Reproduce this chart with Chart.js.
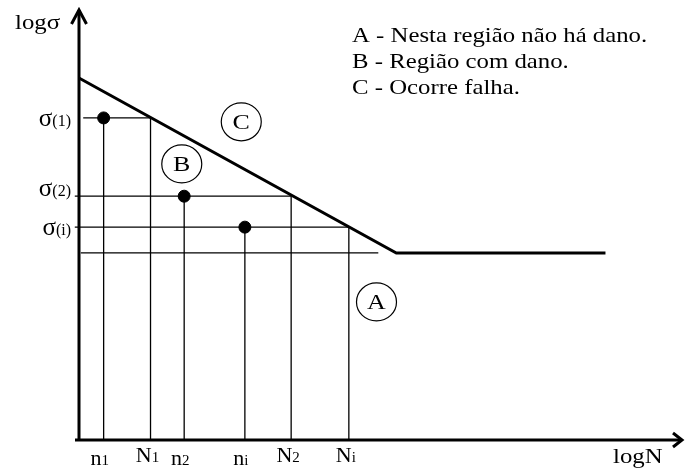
<!DOCTYPE html>
<html>
<head>
<meta charset="utf-8">
<script src="https://cdn.jsdelivr.net/npm/chart.js@4/dist/chart.umd.min.js"></script>
<style>
  html, body { margin: 0; padding: 0; background: #fff; }
  canvas { display: block; }
</style>
</head>
<body>
<canvas id="sn" width="687" height="470"></canvas>
<script>
// S-N curve (log N vs log sigma), schematic units
const curveLogN = [0, 5.28, 8.76];
const curveLogS = [8.42, 4.35, 4.35];

// Stress levels and their cycle counts
const stressLevels = [7.49, 5.67, 4.95];        // sigma(1), sigma(2), sigma(i)
const stressLabels = ['(1)', '(2)', '(i)'];
const appliedCycles = [0.41, 1.75, 2.76];       // n1, n2, ni
const appliedLabels = ['n_1', 'n_2', 'n_i'];
const lifeCycles = [1.19, 3.53, 4.49];          // N1, N2, Ni
const lifeLabels = ['N_1', 'N_2', 'N_i'];
const levelLineStart = [0.07, -0.07, -0.07];

// Endurance reference line
const enduranceStart = 0.03;
const enduranceEnd = 4.98;

// Region markers
const regionNames = ['A', 'B', 'C'];
const regionLogN = [4.95, 1.71, 2.70];
const regionLogS = [3.21, 6.42, 7.40];

const legendLines = [
  'A - Nesta região não há dano.',
  'B - Região com dano.',
  'C - Ocorre falha.'
];

const SERIF = '"Liberation Serif", "Times New Roman", serif';
const TEXT_STRETCH = 1.18;           // text is set slightly wide
const stressLabelDy = [8, 0, 8];     // baseline offsets of the sigma labels

function seg(x0, y0, x1, y1, width) {
  return {
    type: 'scatter',
    data: [{ x: x0, y: y0 }, { x: x1, y: y1 }],
    showLine: true,
    borderColor: '#000',
    borderWidth: width,
    pointRadius: 0,
    clip: false
  };
}

const datasets = [];
// S-N curve
datasets.push({
  type: 'scatter',
  data: curveLogN.map((x, i) => ({ x, y: curveLogS[i] })),
  showLine: true,
  borderColor: '#000',
  borderWidth: 3,
  pointRadius: 0,
  clip: false
});
// endurance reference line
datasets.push(seg(enduranceStart, curveLogS[1], enduranceEnd, curveLogS[1], 1.3));
// stress level lines and cycle verticals
stressLevels.forEach((s, k) => {
  datasets.push(seg(levelLineStart[k], s, lifeCycles[k], s, 1.3));
  datasets.push(seg(appliedCycles[k], 0, appliedCycles[k], s, 1.3));
  datasets.push(seg(lifeCycles[k], 0, lifeCycles[k], s, 1.3));
});
// applied-load points
datasets.push({
  type: 'scatter',
  data: appliedCycles.map((x, k) => ({ x, y: stressLevels[k] })),
  pointRadius: 6,
  pointBackgroundColor: '#000',
  pointBorderColor: '#000',
  clip: false
});

function wideText(ctx, text, x, y, size, align) {
  ctx.font = size + 'px ' + SERIF;
  const w = ctx.measureText(text).width * TEXT_STRETCH;
  const x0 = align === 'center' ? x - w / 2 : align === 'right' ? x - w : x;
  ctx.save();
  ctx.translate(x0, y);
  ctx.scale(TEXT_STRETCH, 1);
  ctx.textAlign = 'left';
  ctx.fillText(text, 0, 0);
  ctx.restore();
}

function drawSub(ctx, text, x, y, mainSize, subSize) {
  const [main, sub] = text.split('_');
  ctx.font = mainSize + 'px ' + SERIF;
  const wm = ctx.measureText(main).width;
  ctx.font = subSize + 'px ' + SERIF;
  const ws = ctx.measureText(sub).width;
  const x0 = x - (wm + ws) / 2;
  ctx.textAlign = 'left';
  ctx.font = mainSize + 'px ' + SERIF;
  ctx.fillText(main, x0, y);
  ctx.font = subSize + 'px ' + SERIF;
  ctx.fillText(sub, x0 + wm, y);
}

const diagramPlugin = {
  id: 'diagram',
  afterDatasetsDraw(chart) {
    const ctx = chart.ctx;
    const xs = chart.scales.x, ys = chart.scales.y;
    const ox = xs.getPixelForValue(0), oy = ys.getPixelForValue(0);
    const topY = ys.getPixelForValue(ys.max);
    const rightX = xs.getPixelForValue(xs.max);
    ctx.save();
    ctx.strokeStyle = '#000';
    ctx.fillStyle = '#000';
    ctx.lineWidth = 3;
    ctx.lineCap = 'butt';
    // axes
    ctx.beginPath();
    ctx.moveTo(ox, oy + 1.5); ctx.lineTo(ox, topY);
    ctx.moveTo(ox - 4, oy); ctx.lineTo(rightX + 2, oy);
    ctx.stroke();
    // arrow heads
    ctx.lineJoin = 'miter';
    ctx.beginPath();
    ctx.moveTo(ox - 7.5, topY + 14); ctx.lineTo(ox, topY); ctx.lineTo(ox + 7.5, topY + 14);
    ctx.moveTo(rightX - 7, oy - 7); ctx.lineTo(rightX + 2, oy); ctx.lineTo(rightX - 7, oy + 7);
    ctx.stroke();

    // axis titles
    ctx.textBaseline = 'alphabetic';
    wideText(ctx, 'logσ', 15, 29, 21, 'left');
    wideText(ctx, 'logN', 613, 463, 21, 'left');

    // cycle tick labels
    appliedCycles.forEach((v, k) => drawSub(ctx, appliedLabels[k], xs.getPixelForValue(v) - 4, 465, 22, 15));
    lifeCycles.forEach((v, k) => drawSub(ctx, lifeLabels[k], xs.getPixelForValue(v) - 3, 462, 22, 15));

    // stress labels
    stressLevels.forEach((s, k) => {
      const y = ys.getPixelForValue(s) + stressLabelDy[k];
      ctx.font = '16px ' + SERIF;
      const wp = ctx.measureText(stressLabels[k]).width;
      ctx.textAlign = 'right';
      ctx.fillText(stressLabels[k], 71, y);
      ctx.font = '25px ' + SERIF;
      ctx.fillText('σ', 71 - wp, y);
    });

    // region markers
    ctx.lineWidth = 1.2;
    ctx.textBaseline = 'middle';
    regionNames.forEach((name, k) => {
      const cx = xs.getPixelForValue(regionLogN[k]);
      const cy = ys.getPixelForValue(regionLogS[k]);
      ctx.beginPath();
      ctx.ellipse(cx, cy, 20, 19, 0, 0, Math.PI * 2);
      ctx.stroke();
      wideText(ctx, name, cx, cy + 1, 22, 'center');
    });

    // legend text
    ctx.textBaseline = 'alphabetic';
    legendLines.forEach((t, i) => wideText(ctx, t, 352, 42 + i * 26, 21, 'left'));
    ctx.restore();
  }
};

new Chart(document.getElementById('sn'), {
  type: 'scatter',
  data: { datasets },
  options: {
    responsive: false,
    devicePixelRatio: 1,
    animation: false,
    layout: { padding: { left: 79, right: 4, top: 10, bottom: 30 } },
    plugins: { legend: { display: false }, tooltip: { enabled: false } },
    scales: {
      x: { type: 'linear', min: 0, max: 10, display: false },
      y: { type: 'linear', min: 0, max: 10, display: false }
    }
  },
  plugins: [diagramPlugin]
});
</script>
</body>
</html>
